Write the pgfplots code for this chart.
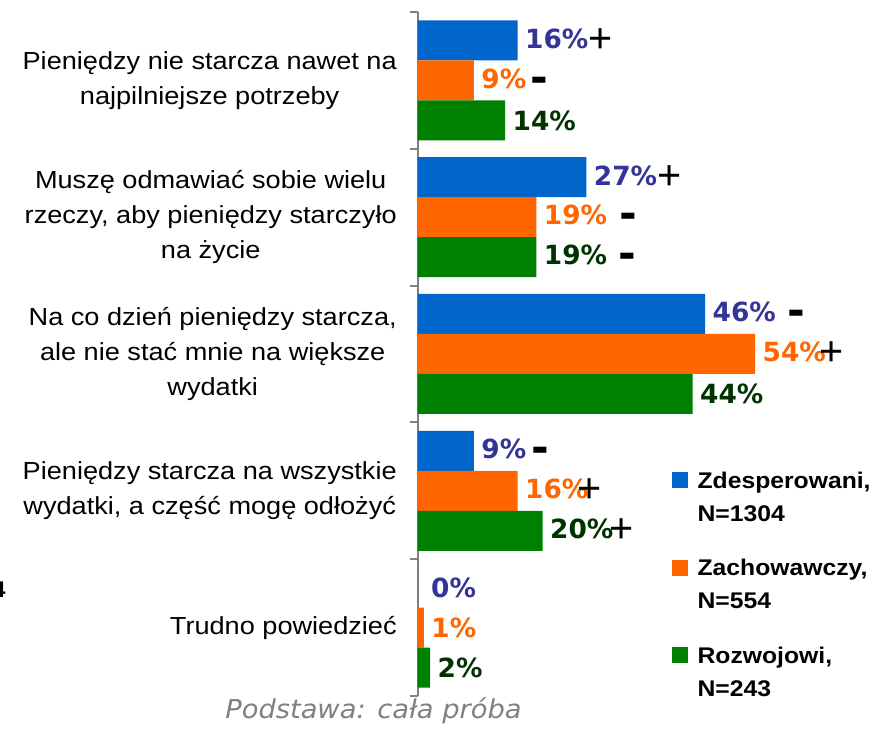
\documentclass[border=0pt]{standalone}
\usepackage{fontspec}
\usepackage{pgfplots}
\pgfplotsset{compat=1.18}
\setmainfont[FakeStretch=1.1]{Liberation Sans}
\newfontfamily\valfont{DejaVu Sans}
\newfontfamily\legfont[FakeStretch=1.09]{Liberation Sans}
\newfontfamily\signfont{Liberation Sans}
\newfontfamily\footfont[FakeStretch=1.05]{DejaVu Sans}
\definecolor{barblue}{HTML}{0066CC}
\definecolor{barorange}{HTML}{FF6600}
\definecolor{bargreen}{HTML}{008000}
\definecolor{lblblue}{HTML}{333399}
\definecolor{lblorange}{HTML}{FF6600}
\definecolor{lblgreen}{HTML}{003300}
\definecolor{axisgray}{HTML}{808080}
\newdimen\px \px=0.75pt
\protected\def\sP#1{\rlap{\kern#1\px\textcolor{black}{\signfont\mdseries\fontsize{31pt}{31pt}\selectfont\raisebox{-4\px}{+}}}}
\protected\def\sM#1{\rlap{\kern#1\px\textcolor{black}{\valfont\bfseries\fontsize{32pt}{32pt}\selectfont\raisebox{-4\px}{-}}}}
\begin{document}
\begin{tikzpicture}
\useasboundingbox (0pt,0pt) rectangle (655.5pt,547.5pt);
\begin{axis}[
  at={(313.125pt,25.5pt)}, anchor=south west,
  scale only axis=true,
  width=342.1875pt, height=513pt,
  xbar, bar width=30pt,
  xmin=0, xmax=73, ymin=-0.5, ymax=4.5,
  axis x line=none,
  axis y line=left,
  axis line style={-, draw=axisgray, line width=1.5pt},
  ytick={0,1,2,3,4},
  yticklabels={{Trudno powiedzieć},
    {Pieniędzy starcza na wszystkie\\wydatki, a część mogę odłożyć},
    {Na co dzień pieniędzy starcza,\\ale nie stać mnie na większe\\wydatki},
    {Muszę odmawiać sobie wielu\\rzeczy, aby pieniędzy starczyło\\na życie},
    {Pieniędzy nie starcza nawet na\\najpilniejsze potrzeby}},
  yticklabel style={font=\fontsize{18.5pt}{26.25pt}\selectfont, align=center, anchor=east, inner sep=0pt, xshift=-15.4pt},
  major tick length=0pt,
  extra y ticks={-0.5,0.5,1.5,2.5,3.5,4.5},
  extra y tick labels={},
  extra y tick style={major tick length=6pt, tick align=outside, tick style={draw=axisgray, line width=1.5pt}},
  clip=false,
  point meta=explicit symbolic,
  nodes near coords,
  every node near coord/.append style={anchor=west, inner sep=0pt, xshift=5.6pt, font=\valfont\bfseries\fontsize{19.8pt}{19.8pt}\selectfont},
  legend style={at={(0.5578,0.332)}, anchor=north west, draw=none, fill=none, inner sep=0pt,
    font=\legfont\bfseries\fontsize{17pt}{24.75pt}\selectfont,
    cells={anchor=base west, align=left, inner sep=0pt},
    row sep=23pt, column sep=5pt},
  legend image code/.code={\fill[#1,draw=none] (0pt,24.6pt) rectangle (12pt,36.6pt);},
]
\addplot[fill=barblue, draw=none, bar shift=30pt, every node near coord/.append style={text=lblblue}]
  coordinates {(16,4) [16\%\sP{0}] (27,3) [27\%\sP{0}] (46,2) [46\%\sM{12}] (9,1) [9\%\sM{5}] (0,0) [\kern6\px 0\%]};
\addlegendentry{Zdesperowani,\\N=1304}
\addplot[fill=barorange, draw=none, bar shift=0pt, every node near coord/.append style={text=lblorange}]
  coordinates {(9,4) [9\%\sM{4}] (19,3) [19\%\sM{12}] (54,2) [54\%\sP{-6}] (16,1) [16\%\sP{-11}] (1,0) [1\%]};
\addlegendentry{Zachowawczy,\\N=554}
\addplot[fill=bargreen, draw=none, bar shift=-30pt, every node near coord/.append style={text=lblgreen}]
  coordinates {(14,4) [14\%] (19,3) [19\%\sM{11}] (44,2) [44\%] (20,1) [20\%\sP{-4}] (2,0) [2\%]};
\addlegendentry{Rozwojowi,\\N=243}
\end{axis}
\node[anchor=east, inner sep=0pt] at (4.5pt,105pt) {\legfont\bfseries\fontsize{17pt}{18pt}\selectfont 4};
\node[anchor=base, inner sep=0pt, text=axisgray] at (280.1pt,8.8pt) {\footfont\itshape\fontsize{19.5pt}{22pt}\selectfont Podstawa: cała próba};
\end{tikzpicture}
\end{document}
